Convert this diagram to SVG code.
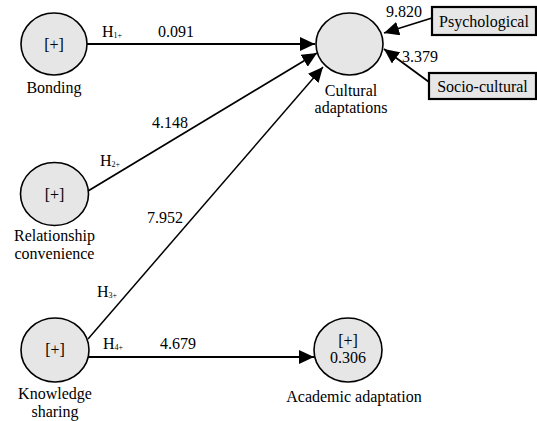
<svg xmlns="http://www.w3.org/2000/svg" width="537" height="421" viewBox="0 0 537 421">
<style>
.t{font-family:"Liberation Serif","Times New Roman",serif;font-size:16px;fill:#000}
.c{text-anchor:middle}
.s{font-size:8px}
.node{fill:#e6e6e6;stroke:#000;stroke-width:1.6}
.box{fill:#e6e6e6;stroke:#000;stroke-width:2.2}
.ln{stroke:#000;fill:none}
.pl{fill:#333}
</style>
<defs>
<marker id="ah" markerUnits="userSpaceOnUse" markerWidth="16" markerHeight="14" refX="15" refY="7" orient="auto">
<path d="M0,0 L15,7 L0,14 Z" fill="#000"/>
</marker>
</defs>
<rect width="537" height="421" fill="#fff"/>
<g id="connectors">
<line class="ln" x1="87" y1="44" x2="315" y2="44" stroke-width="2" marker-end="url(#ah)"/>
<line class="ln" x1="88" y1="191" x2="317" y2="53" stroke-width="1.8" marker-end="url(#ah)"/>
<line class="ln" x1="88" y1="339" x2="323" y2="67" stroke-width="1.5" marker-end="url(#ah)"/>
<line class="ln" x1="88" y1="357" x2="314" y2="357" stroke-width="2" marker-end="url(#ah)"/>
<line class="ln" x1="432" y1="18" x2="384" y2="33" stroke-width="1.8" marker-end="url(#ah)"/>
<line class="ln" x1="429" y1="82" x2="384" y2="49" stroke-width="1.8" marker-end="url(#ah)"/>
<text class="t" x="102" y="37">H<tspan class="s" dy="1">1+</tspan></text>
<text class="t c" x="176" y="37">0.091</text>
<text class="t c" x="170" y="128">4.148</text>
<text class="t" x="100" y="166">H<tspan class="s" dy="1">2+</tspan></text>
<text class="t c" x="165" y="223">7.952</text>
<text class="t" x="97" y="297">H<tspan class="s" dy="1">3+</tspan></text>
<text class="t" x="103" y="349">H<tspan class="s" dy="1">4+</tspan></text>
<text class="t c" x="178" y="349">4.679</text>
<text class="t c" x="404" y="17">9.820</text>
<text class="t c" x="420" y="62">3.379</text>
</g>
<g id="bonding">
<ellipse class="node" cx="54" cy="44" rx="33" ry="31"/>
<text class="t c" x="54" y="50">[+]</text>
<text class="t c" x="54" y="93">Bonding</text>
</g>
<g id="relationship">
<ellipse class="node" cx="54.5" cy="194" rx="34" ry="31.5"/>
<text class="t c" x="54.5" y="200">[+]</text>
<text class="t c" x="54.5" y="241">Relationship</text>
<text class="t c" x="54.5" y="259">convenience</text>
</g>
<g id="knowledge">
<ellipse class="node" cx="55" cy="350" rx="34" ry="32"/>
<text class="t c" x="55" y="355">[+]</text>
<text class="t c" x="55" y="399">Knowledge</text>
<text class="t c" x="55" y="417">sharing</text>
</g>
<g id="cultural">
<ellipse class="node" cx="349.5" cy="44" rx="33.5" ry="31"/>
<text class="t c" x="351" y="96">Cultural</text>
<text class="t c" x="351" y="113">adaptations</text>
</g>
<g id="academic">
<ellipse class="node" cx="348" cy="350" rx="34" ry="32"/>
<text class="t c" x="348" y="346">[+]</text>
<text class="t c" x="348" y="363">0.306</text>
<text class="t c" x="354" y="402">Academic adaptation</text>
</g>
<g id="psychological">
<rect class="box" x="432" y="7" width="104" height="28"/>
<text class="t c" x="484" y="27">Psychological</text>
</g>
<g id="sociocultural">
<rect class="box" x="429" y="73" width="107" height="26"/>
<text class="t c" x="482.5" y="92">Socio-cultural</text>
</g>
</svg>
